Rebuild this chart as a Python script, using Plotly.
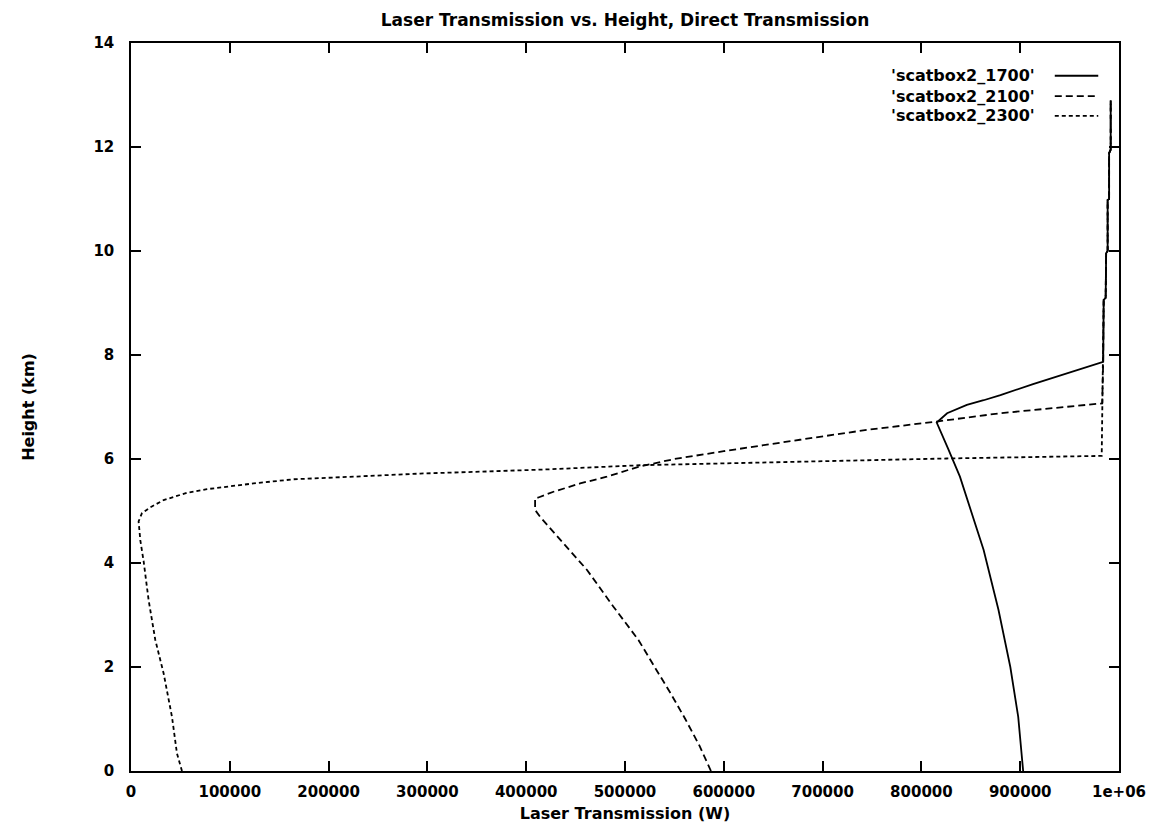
import plotly.graph_objects as go

# ---- data ----
# shared vertical column above the cloud layer (all series converge here)
x_top = [984000, 984500, 986500, 987000, 988500, 988500, 990000, 990000, 991600, 991600]
h_top = [7.87, 9.06, 9.10, 9.96, 10.0, 10.98, 11.0, 11.88, 11.95, 12.9]

x_1700 = [903000, 898000, 890000, 878000, 863000, 839000, 827000, 815500,
          826000, 846000, 863000, 880000, 913000, 947000]
h_1700 = [0.0, 1.04, 2.0, 3.1, 4.25, 5.66, 6.2, 6.7,
          6.88, 7.04, 7.13, 7.23, 7.44, 7.65]

x_2100 = [587000, 575000, 561000, 546000, 530000, 513600, 488300, 461400, 437700,
          414000, 409000, 409000, 412400, 427600, 454600, 481600, 513600, 550000,
          600000, 650000, 677000, 744700, 815500, 879600, 947000, 983000]
h_2100 = [0.0, 0.5, 1.0, 1.5, 2.0, 2.52, 3.16, 3.87, 4.38,
          4.89, 5.02, 5.24, 5.26, 5.37, 5.53, 5.66, 5.85, 6.0,
          6.15, 6.3, 6.37, 6.56, 6.72, 6.88, 7.0, 7.07]

x_2300 = [51600, 46500, 41500, 33000, 24600, 17800, 12800, 9400, 7700, 11100,
          19500, 33000, 56700, 76900, 124000, 164500, 225000, 292700, 360000,
          421000, 515000, 677000, 825600, 982500, 983000]
h_2300 = [0.0, 0.34, 1.04, 1.88, 2.52, 3.29, 4.03, 4.44, 4.8, 4.96,
          5.07, 5.21, 5.35, 5.42, 5.53, 5.61, 5.66, 5.72, 5.76,
          5.80, 5.88, 5.95, 6.01, 6.06, 7.07]

series_names = ["'scatbox2_1700'", "'scatbox2_2100'", "'scatbox2_2300'"]
x_ticks = [0, 100000, 200000, 300000, 400000, 500000, 600000, 700000, 800000, 900000, 1000000]
x_tick_text = ["0", "100000", "200000", "300000", "400000", "500000", "600000",
               "700000", "800000", "900000", "1e+06"]
y_ticks = [0, 2, 4, 6, 8, 10, 12, 14]

FONT = "DejaVu Sans"
dashes = ["solid", "7px,4px", "4px,3px"]
LW = 1.8

fig = go.Figure()
series = [
    (x_1700 + x_top, h_1700 + h_top),
    (x_2100 + x_top, h_2100 + h_top),
    (x_2300 + x_top, h_2300 + h_top),
]
for (xs, hs), name, d in zip(series, series_names, dashes):
    fig.add_trace(go.Scatter(x=xs, y=hs, mode="lines", name=name,
                             line=dict(color="black", width=LW, dash=d),
                             showlegend=False))

# manual gnuplot-style legend (text left, sample right)
leg_y = [0.955, 0.927, 0.900]
for name, d, yy in zip(series_names, dashes, leg_y):
    fig.add_annotation(x=0.917, y=yy, xref="paper", yref="paper", text=name,
                       showarrow=False, xanchor="right", yanchor="middle",
                       font=dict(family=FONT, size=16, color="black", weight="bold"))
    fig.add_shape(type="line", xref="paper", yref="paper", x0=0.935, x1=0.979,
                  y0=yy, y1=yy, line=dict(color="black", width=LW, dash=d))

axis_common = dict(showline=True, linecolor="black", linewidth=1.5, mirror="ticks",
                   ticks="inside", ticklen=10, tickwidth=1.5, tickcolor="black",
                   showgrid=False, zeroline=False,
                   tickfont=dict(family=FONT, size=15, color="black", weight="bold"))

fig.update_layout(
    width=1154, height=823,
    margin=dict(l=123, r=43, t=35, b=60),
    paper_bgcolor="white", plot_bgcolor="white",
    title=dict(text="Laser Transmission vs. Height, Direct Transmission",
               x=0.5, xref="paper", xanchor="center", y=0.985, yanchor="middle",
               font=dict(family=FONT, size=17, color="black", weight="bold")),
    xaxis=dict(range=[0, 1000000], tickvals=x_ticks, ticktext=x_tick_text,
               title=dict(text="Laser Transmission (W)", standoff=8,
                          font=dict(family=FONT, size=16, color="black", weight="bold")),
               ticklabelstandoff=6, **axis_common),
    yaxis=dict(range=[0, 14], tickvals=y_ticks,
               title=dict(text="Height (km)", standoff=55,
                          font=dict(family=FONT, size=16, color="black", weight="bold")),
               ticklabelstandoff=12, **axis_common),
)

fig.write_html("out.html")
